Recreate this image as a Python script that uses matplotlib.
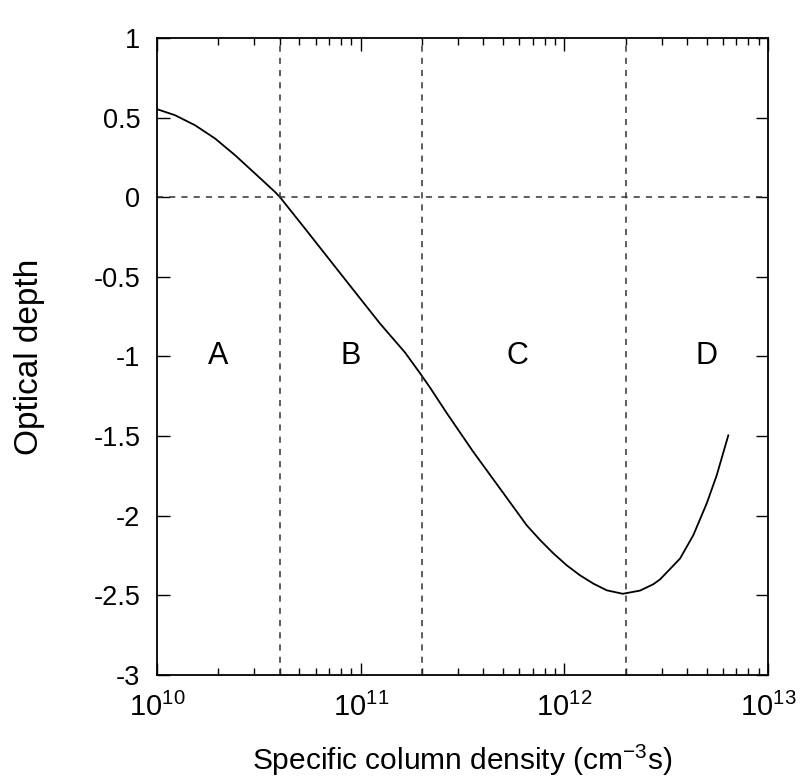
import matplotlib
matplotlib.use("Agg")
import matplotlib.pyplot as plt
from matplotlib.ticker import LogLocator, FixedLocator

plt.rcParams.update({
    "font.family": "Liberation Sans",
    "mathtext.fontset": "custom",
    "mathtext.rm": "Liberation Sans",
    "mathtext.it": "Liberation Sans",
    "mathtext.default": "regular",
})

# curve
col_density = [1.0e10, 1.226e10, 1.537e10, 1.927e10, 2.416e10, 3.029e10, 3.797e10, 4.018e10,
               5.33e10, 7.07e10, 9.38e10, 1.244e11, 1.651e11, 1.956e11, 2.19e11, 2.645e11,
               3.573e11, 4.831e11, 6.535e11, 7.596e11, 8.83e11, 1.027e12, 1.194e12, 1.388e12,
               1.614e12, 1.935e12, 2.352e12, 2.734e12, 2.949e12, 3.698e12, 4.298e12, 5.0e12,
               5.6e12, 6.385e12]
opt_depth = [0.553, 0.515, 0.452, 0.369, 0.264, 0.149, 0.033, 0.0,
             -0.197, -0.396, -0.595, -0.793, -0.975, -1.105, -1.195, -1.355,
             -1.599, -1.829, -2.06, -2.152, -2.236, -2.311, -2.374, -2.426,
             -2.468, -2.490, -2.470, -2.43, -2.400, -2.269, -2.122, -1.923,
             -1.746, -1.495]

region_bounds = [4e10, 2e11, 2e12]
region_names = ["A", "B", "C", "D"]
region_xpos = [2.0e10, 8.9e10, 5.9e11, 5.0e12]

fig = plt.figure(figsize=(8.02, 7.80), dpi=100)
ax = fig.add_axes([0.1958, 0.1346, 0.7618, 0.8167])

ax.plot(col_density, opt_depth, color="black", lw=1.3, solid_joinstyle="round")

dash = dict(color="#333333", lw=1.1, ls=(0, (4, 4)))
for b in region_bounds:
    ax.axvline(b, **dash)
ax.axhline(0, **dash)

for name, xp in zip(region_names, region_xpos):
    ax.text(xp, -1.0, name, ha="center", va="center", fontsize=22)

ax.set_xscale("log")
ax.set_xlim(1e10, 1e13)
ax.set_ylim(-3, 1)
ax.set_yticks([-3, -2.5, -2, -1.5, -1, -0.5, 0, 0.5, 1])
ax.set_yticklabels(["-3", "-2.5", "-2", "-1.5", "-1", "-0.5", "0", "0.5", "1"])
ax.xaxis.set_major_locator(FixedLocator([1e10, 1e11, 1e12, 1e13]))
ax.set_xticklabels([r"$10^{10}$", r"$10^{11}$", r"$10^{12}$", r"$10^{13}$"])
ax.xaxis.set_minor_locator(LogLocator(base=10, subs=range(2, 10)))

ax.tick_params(which="both", direction="in", top=True, right=True, labelsize=19.5, width=1)
ax.tick_params(which="major", length=9)
ax.tick_params(which="minor", length=5)
ax.tick_params(axis="x", labelsize=21, pad=13)
ax.tick_params(axis="y", pad=12)
for s in ax.spines.values():
    s.set_linewidth(1.3)

ax.set_xlabel(r"Specific column density (cm$^{-3}$s)", fontsize=21.5, labelpad=15)
ax.set_ylabel("Optical depth", fontsize=24, labelpad=35)

fig.savefig("out.png", dpi=100)
